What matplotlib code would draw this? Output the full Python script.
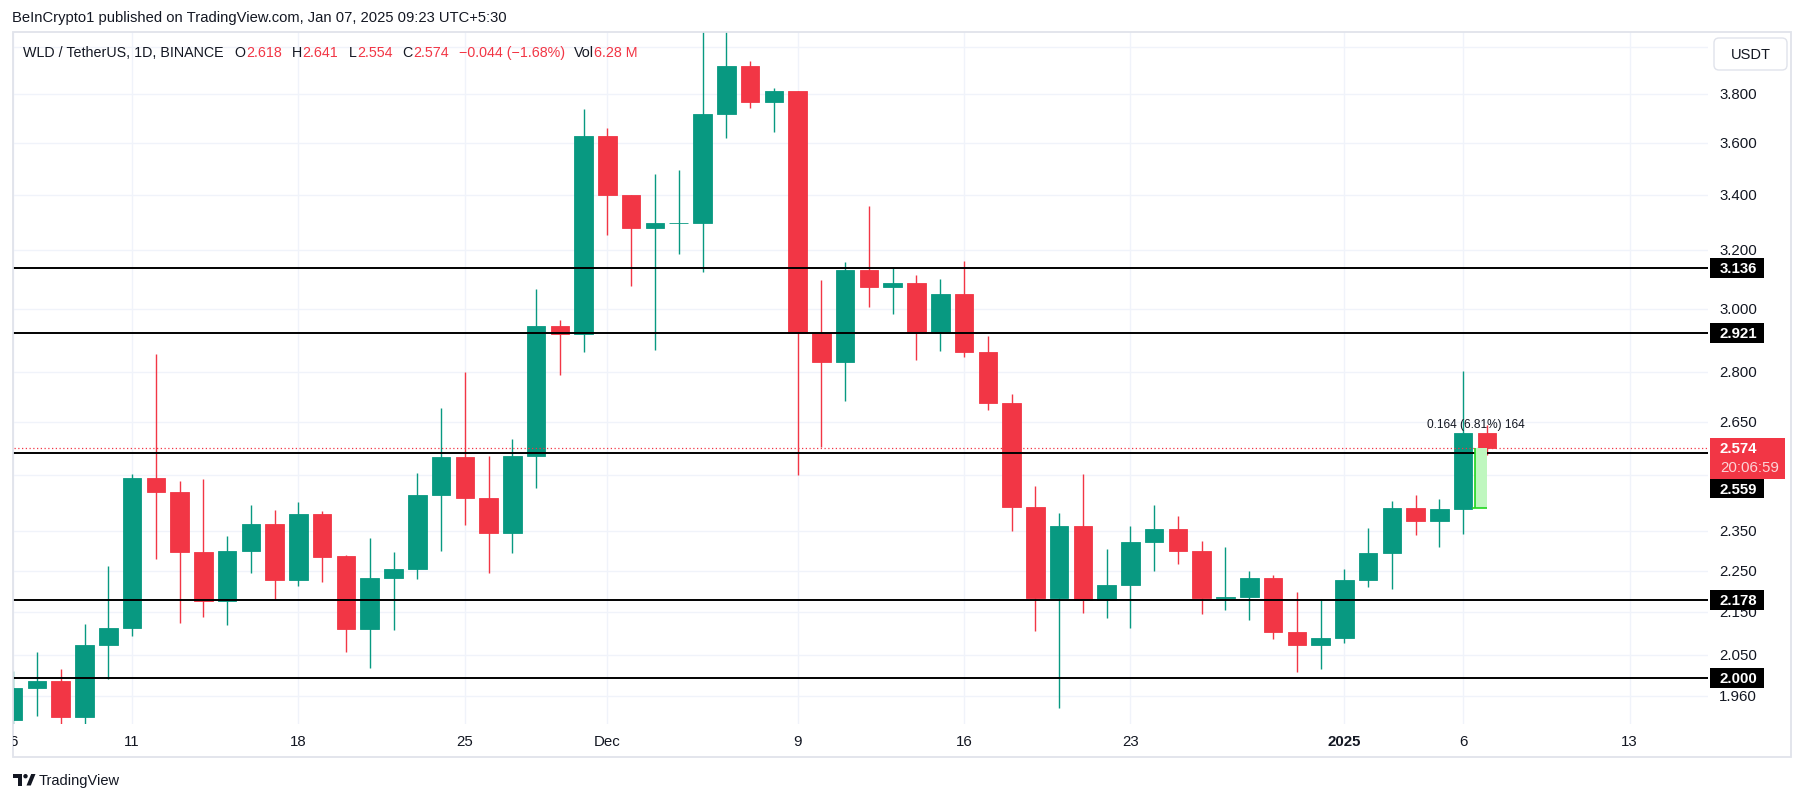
import numpy as np
import pandas as pd
import matplotlib
matplotlib.use("Agg")
import matplotlib.pyplot as plt
import matplotlib.dates as mdates
from matplotlib.patches import Rectangle, FancyBboxPatch, Polygon, Circle
from matplotlib.transforms import Bbox, IdentityTransform, blended_transform_factory

plt.rcParams['font.family'] = ['Liberation Sans', 'DejaVu Sans']

# ---------------- data ----------------
dates = pd.date_range('2024-11-06', '2025-01-07', freq='D')
opens = [1.910, 1.978, 1.994, 1.915, 2.074, 2.112, 2.491, 2.453, 2.297, 2.176,
         2.298, 2.369, 2.226, 2.394, 2.286, 2.111, 2.231, 2.254, 2.444, 2.548,
         2.438, 2.346, 2.551, 2.944, 2.919, 3.628, 3.401, 3.280, 3.296, 3.298,
         3.716, 3.917, 3.765, 3.811, 2.921, 2.830, 3.131, 3.074, 3.086, 2.920,
         3.049, 2.862, 2.706, 2.412, 2.184, 2.363, 2.179, 2.215, 2.322, 2.355,
         2.298, 2.184, 2.186, 2.232, 2.104, 2.074, 2.089, 2.227, 2.294, 2.410,
         2.377, 2.407, 2.618]
highs = [2.015, 2.058, 2.020, 2.122, 2.262, 2.501, 2.854, 2.484, 2.487, 2.338,
         2.419, 2.406, 2.426, 2.401, 2.288, 2.333, 2.296, 2.506, 2.690, 2.798,
         2.552, 2.600, 3.066, 2.963, 3.736, 3.660, 3.401, 3.479, 3.494, 4.120,
         4.100, 3.939, 3.824, 3.811, 3.096, 3.157, 3.359, 3.137, 3.113, 3.100,
         3.162, 2.912, 2.732, 2.469, 2.397, 2.501, 2.304, 2.363, 2.418, 2.389,
         2.324, 2.309, 2.250, 2.238, 2.198, 2.181, 2.254, 2.359, 2.429, 2.445,
         2.434, 2.802, 2.641]
lows = [1.890, 1.918, 1.900, 1.898, 1.997, 2.095, 2.280, 2.124, 2.137, 2.119,
        2.244, 2.181, 2.212, 2.221, 2.058, 2.021, 2.109, 2.230, 2.298, 2.365,
        2.244, 2.293, 2.464, 2.790, 2.862, 3.254, 3.077, 2.868, 3.186, 3.125,
        3.619, 3.742, 3.644, 2.500, 2.578, 2.712, 3.007, 2.984, 2.837, 2.865,
        2.846, 2.685, 2.350, 2.106, 1.935, 2.148, 2.136, 2.113, 2.250, 2.266,
        2.146, 2.155, 2.132, 2.086, 2.013, 2.020, 2.079, 2.211, 2.206, 2.340,
        2.310, 2.343, 2.554]
closes = [1.978, 1.994, 1.915, 2.074, 2.112, 2.491, 2.453, 2.297, 2.176, 2.298,
          2.369, 2.226, 2.394, 2.284, 2.111, 2.231, 2.254, 2.444, 2.548, 2.437,
          2.346, 2.551, 2.944, 2.919, 3.628, 3.401, 3.280, 3.297, 3.298, 3.716,
          3.917, 3.765, 3.811, 2.921, 2.830, 3.131, 3.074, 3.086, 2.920, 3.049,
          2.862, 2.706, 2.412, 2.184, 2.363, 2.179, 2.215, 2.322, 2.355, 2.298,
          2.184, 2.186, 2.232, 2.104, 2.074, 2.089, 2.227, 2.294, 2.410, 2.377,
          2.407, 2.618, 2.574]

levels = [3.136, 2.921, 2.559, 2.178, 2.000]
level_labels = ['3.136', '2.921', '2.559', '2.178', '2.000']
tick_prices = [3.8, 3.6, 3.4, 3.2, 3.0, 2.8, 2.65, 2.35, 2.25, 2.15, 2.05, 1.96]
tick_labels = ['3.800', '3.600', '3.400', '3.200', '3.000', '2.800', '2.650',
               '2.350', '2.250', '2.150', '2.050', '1.960']
grid_prices = [4.0, 3.8, 3.6, 3.4, 3.2, 3.0, 2.8, 2.65, 2.5, 2.35, 2.25, 2.15, 2.05, 1.96]
xtick_dates = ['2024-11-06', '2024-11-11', '2024-11-18', '2024-11-25', '2024-12-01',
               '2024-12-09', '2024-12-16', '2024-12-23', '2025-01-01', '2025-01-06',
               '2025-01-13']
xtick_labels = ['6', '11', '18', '25', 'Dec', '9', '16', '23', '2025', '6', '13']
last_price = 2.574
countdown = '20:06:59'
measure_low, measure_high = 2.410, 2.574
measure_text = '0.164 (6.81%) 164'
header = 'BeInCrypto1 published on TradingView.com, Jan 07, 2025 09:23 UTC+5:30'
title_parts = [('WLD / TetherUS, 1D, BINANCE', 'k'), ('O', 'k'), ('2.618', 'r'),
               ('H', 'k'), ('2.641', 'r'), ('L', 'k'), ('2.554', 'r'),
               ('C', 'k'), ('2.574', 'r'), ('\u22120.044 (\u22121.68%)', 'r'),
               ('Vol', 'k'), ('6.28 M', 'r')]
title_gaps = [11, 0.5, 10, 0.5, 10, 0.5, 10, 0.5, 10, 9, 0.5, 0]

# ---------------- style ----------------
W, H = 1804, 803
GREEN = '#089981'
RED = '#F23645'
DARK = '#131722'
GRID = '#f0f3fa'
FRAME = '#e0e3eb'
ID = IdentityTransform()

fig = plt.figure(figsize=(W / 100, H / 100), dpi=100)
fig.patch.set_facecolor('white')

L_px, R_px, T_px, B_px = 12.5, 1708.0, 33.3, 725.0
ax = fig.add_axes([L_px / W, 1 - B_px / H, (R_px - L_px) / W, (B_px - T_px) / H])
ax.set_yscale('log')
ax.set_ylim(1.901, 4.065)
x = mdates.date2num(dates)
x0 = mdates.date2num(pd.Timestamp('2024-11-11'))
ax.set_xlim(x0 - 5.03, x0 + 66.30)
ax.axis('off')

# grid
xt = mdates.date2num(pd.to_datetime(xtick_dates))
ax.hlines(grid_prices, x0 - 10, x0 + 80, colors=GRID, lw=1.0, zorder=0)
ax.vlines(xt, 1.5, 5.0, colors=GRID, lw=1.0, zorder=0)

# candles
o = np.array(opens); h = np.array(highs); l = np.array(lows); c = np.array(closes)
up = c >= o
cols = np.where(up, GREEN, RED)
ax.vlines(x, l, h, colors=cols, lw=1.0, zorder=3)
ax.bar(x, np.abs(c - o), bottom=np.minimum(o, c), width=0.78, color=cols,
       edgecolor=cols, linewidth=0.6, zorder=4)

# level lines
ax.hlines(levels, x0 - 10, x0 + 80, colors='black', lw=1.4, zorder=5)
# last price dotted
ax.hlines([last_price], x0 - 10, x0 + 80, colors=RED, lw=0.9,
          linestyles=[(0, (1, 2))], zorder=6)

# measurement tool
xj6, xj7 = x[-2], x[-1]
ax.add_patch(Rectangle((xj6 + 0.5, measure_low), xj7 - xj6 - 0.48,
                       measure_high - measure_low, facecolor='#bff7bf',
                       edgecolor='none', zorder=7))
ax.vlines([xj6 + 0.5], measure_low, measure_high, colors='#1fd61f', lw=1.2, zorder=8)
ax.hlines([measure_low], xj6 + 0.38, xj7, colors='#1fd61f', lw=1.2, zorder=8)
ax.text(xj6 + 0.54, 2.643, measure_text, ha='center', va='center',
        fontsize=8.6, color=DARK, zorder=9)

# ---------------- frame ----------------
fig.patches.append(Rectangle((12.5, H - 758), 1791 - 12.5, 758 - 33.3,
                             transform=ID, facecolor='none', edgecolor=FRAME,
                             lw=1.3, zorder=0))

# price axis tick labels
ytr = blended_transform_factory(ID, ax.transData)
for p, s in zip(tick_prices, tick_labels):
    fig.text(1719, p, s, transform=ytr, ha='left', va='center',
             fontsize=10.8, color=DARK, zorder=2)


def py_of(p):
    return ax.transData.transform((x0, p))[1]


# level label boxes
for p, s in zip(levels, level_labels):
    if s == '2.559':
        continue
    yc = py_of(p)
    fig.patches.append(Rectangle((1710, yc - 10), 54, 20, transform=ID,
                                 facecolor='black', edgecolor='none', zorder=5))
    fig.text(1720, yc, s, transform=ID, ha='left', va='center', fontsize=10.8,
             fontweight='bold', color='white', zorder=6)

# current price box
yp = py_of(last_price)
fig.patches.append(Rectangle((1710, yp - 30.8), 75, 41, transform=ID,
                             facecolor=RED, edgecolor='none', zorder=5))
fig.text(1720, yp, f'{last_price:.3f}', transform=ID, ha='left', va='center',
         fontsize=10.8, fontweight='bold', color='white', zorder=6)
fig.text(1720, yp - 18.5, countdown, transform=ID, ha='left', va='center',
         fontsize=10.8, color='#fcd3d7', zorder=6)
# 2.559 box pushed below
yb = yp - 30.8
fig.patches.append(Rectangle((1710, yb - 19.5), 54, 19.5, transform=ID,
                             facecolor='black', edgecolor='none', zorder=5))
fig.text(1720, yb - 9.8, '2.559', transform=ID, ha='left', va='center',
         fontsize=10.8, fontweight='bold', color='white', zorder=6)

# USDT button
fig.patches.append(FancyBboxPatch((1714, H - 71), 73, 32, transform=ID,
                                  boxstyle='round,pad=0,rounding_size=5',
                                  facecolor='white', edgecolor=FRAME, lw=1.0, zorder=5))
fig.text(1750.5, H - 55, 'USDT', transform=ID, ha='center', va='center',
         fontsize=10.5, color=DARK, zorder=6)

# time axis labels
xtr = blended_transform_factory(ax.transData, ID)
clip = Bbox.from_extents(12.5, 0, R_px, H)
for d, s in zip(xt, xtick_labels):
    t = fig.text(d, H - 742, s, transform=xtr, ha='center', va='center',
                 fontsize=10.8, color=DARK,
                 fontweight='bold' if s == '2025' else 'normal')
    t.set_clip_box(clip)
    t.set_clip_on(True)

# header
fig.text(11.5, H - 18, header, transform=ID, ha='left', va='center',
         fontsize=10.65, color=DARK)

renderer = fig.canvas.get_renderer()
xpos = 23.0
for (s, cc), g in zip(title_parts, title_gaps):
    t = fig.text(xpos, H - 53.3, s, transform=ID, ha='left', va='center',
                 fontsize=10.3, color=DARK if cc == 'k' else RED)
    bb = t.get_window_extent(renderer)
    xpos = bb.x1 + g

# TradingView logo
yl = H - 781
fig.patches.append(Rectangle((13, yl + 2), 9, 4, transform=ID, facecolor=DARK,
                             edgecolor='none'))
fig.patches.append(Rectangle((18, yl - 5.5), 4, 11.5, transform=ID, facecolor=DARK,
                             edgecolor='none'))
fig.patches.append(Circle((25.5, yl + 3.8), 2.2, transform=ID, facecolor=DARK,
                          edgecolor='none'))
fig.patches.append(Polygon([(26.5, yl - 5.5), (30.8, yl - 5.5), (35.5, yl + 6),
                            (31.2, yl + 6)], closed=True, transform=ID,
                           facecolor=DARK, edgecolor='none'))
fig.text(39, yl, 'TradingView', transform=ID, ha='left', va='center',
         fontsize=10.5, color=DARK)

fig.savefig('out.png', dpi=100, facecolor='white')
